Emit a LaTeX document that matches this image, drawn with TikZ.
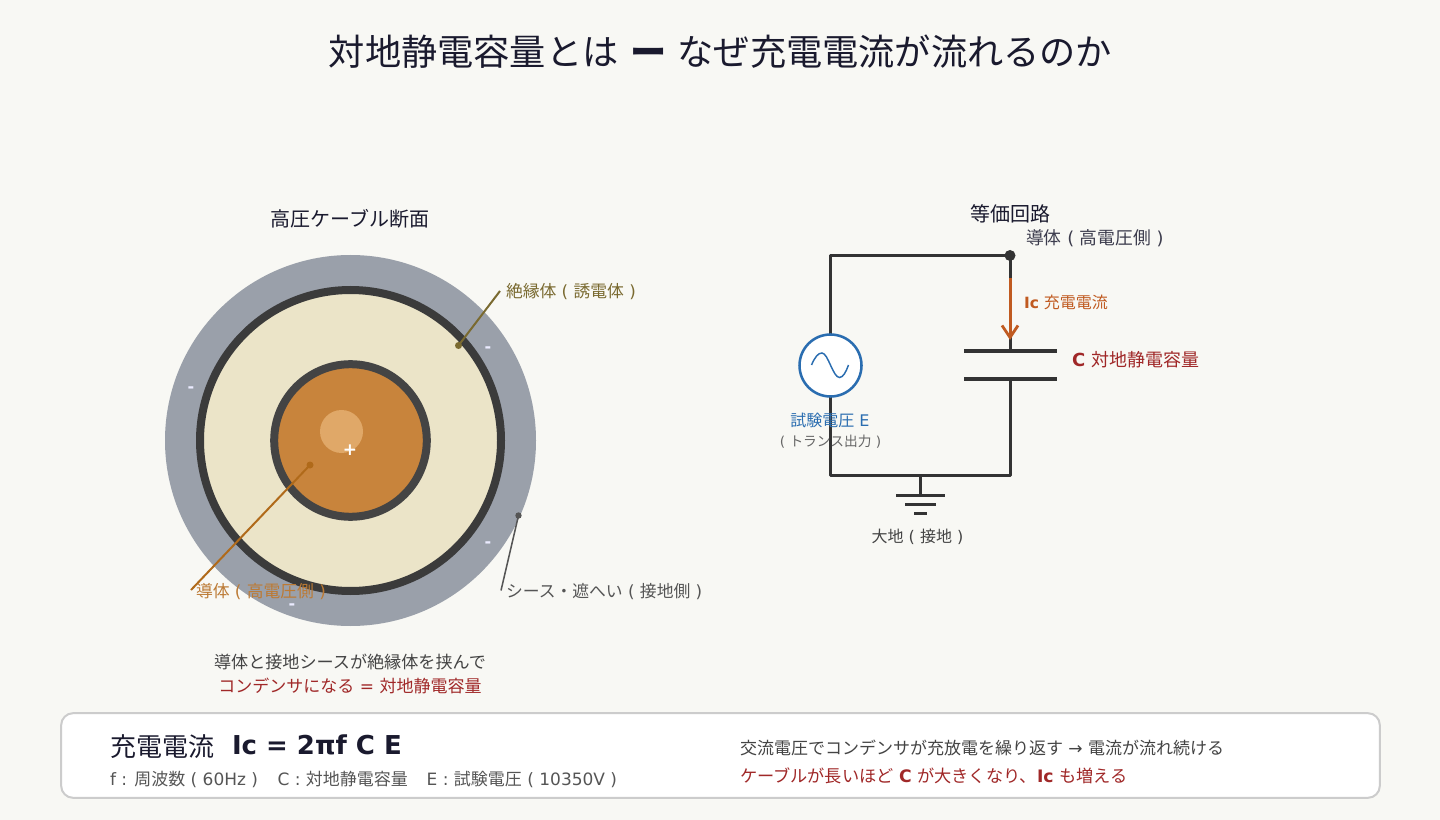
\documentclass[tikz,border=0pt]{standalone}
\usepackage{fontspec}
\setmainfont{DejaVu Sans}
\newfontfamily\cjk{Noto Sans CJK JP}
\usetikzlibrary{arrows.meta}
\newcommand\J[1]{{\cjk #1}}
\newcommand\fs[1]{\fontsize{\fpeval{#1*0.75}}{\fpeval{#1*0.9}}\selectfont}
\definecolor{bg}{HTML}{F8F8F4}
\definecolor{ink}{HTML}{1A1A2E}
\definecolor{sheath}{HTML}{9AA0AA}
\definecolor{insul}{HTML}{EBE4C8}
\definecolor{cond}{HTML}{C8843C}
\definecolor{hilite}{HTML}{E0A868}
\definecolor{wire}{HTML}{333333}
\definecolor{redt}{HTML}{A02828}
\definecolor{bluet}{HTML}{2A6DB0}
\definecolor{oranget}{HTML}{C05A20}
\definecolor{insl}{HTML}{7A6A30}
\definecolor{condl}{HTML}{B06A1A}
\definecolor{condt}{HTML}{BC7A34}
\definecolor{greyt}{HTML}{555555}
\definecolor{darkt}{HTML}{444444}
\tikzset{
  txt/.style={inner sep=0pt,outer sep=0pt,anchor=base west},
  ctxt/.style={inner sep=0pt,outer sep=0pt,anchor=base},
  wireline/.style={draw=wire,line width=2.25pt},
  plate/.style={draw=wire,line width=3pt},
  leader/.style={line width=1.5pt},
  charge/.style={ctxt,text=white!92!blue},
}
\begin{document}
\begin{tikzpicture}[x=0.75pt,y=-0.75pt]
\useasboundingbox (0,0) rectangle (1440,820);
\fill[bg] (0,0) rectangle (1440,820);
\node[ctxt,text=ink,font=\fs{36.2}] (title) at (720.5,66) {\J{対地静電容量とは} \J{\bfseries ー} \J{なぜ充電電流が流れるのか}};
% cable
\node[ctxt,text=ink,font=\fs{20}] (cabletitle) at (350,227) {\J{高圧ケーブル断面}};
\fill[sheath] (350.5,440.5) circle (185.5);
\filldraw[fill=insul,draw=black!77,line width=6pt] (350.5,440.5) circle (150.5);
\filldraw[fill=cond,draw=darkt,line width=6pt] (350.5,440.5) circle (76.3);
\fill[hilite] (341.5,431.5) circle (21.5);
\node[ctxt,text=white,font=\fs{17}\bfseries] (plus) at (350,455.5) {+};
\node[charge,font=\fs{16}\bfseries] (m1) at (488,353) {-};
\node[charge,font=\fs{16}\bfseries] (m2) at (191,392) {-};
\node[charge,font=\fs{16}\bfseries] (m3) at (488,547) {-};
\node[charge,font=\fs{16}\bfseries] (m4) at (292,609) {-};
\coordinate (ia) at (458.5,345.5); \coordinate (ib) at (500,291);
\coordinate (ca) at (310,465); \coordinate (cb) at (191,590);
\coordinate (sa) at (518.5,515.5); \coordinate (sb) at (501,590.5);
\draw[leader,insl] (ia) -- (ib); \fill[insl] (ia) circle (3.5);
\draw[leader,condl] (ca) -- (cb); \fill[condl] (ca) circle (3.5);
\draw[line width=1.15pt,greyt] (sa) -- (sb); \fill[greyt] (sa) circle (3.2);
\node[txt,text=insl,font=\fs{16.8}] (linsul) at (506,297) {\J{絶縁体} ( \J{誘電体} )};
\node[txt,text=condt,font=\fs{16.8}] (lcond) at (196,597) {\J{導体} ( \J{高電圧側} )};
\node[txt,text=greyt,font=\fs{16.8}] (lsheath) at (506,597) {\J{シース・遮へい} ( \J{接地側} )};
\node[ctxt,text=darkt,font=\fs{17.1}] (n1) at (350,668) {\J{導体と接地シースが絶縁体を挟んで}};
\node[ctxt,text=redt,font=\fs{17}] (n2) at (350,692) {\J{コンデンサになる} = \J{対地静電容量}};
% circuit
\node[ctxt,text=ink,font=\fs{20}] (circtitle) at (1010,222) {\J{等価回路}};
\node[txt,text=ink!85!white,font=\fs{17.8}] (lc2) at (1026,245) {\J{導体} ( \J{高電圧側} )};
\coordinate (tl) at (830,255.5); \coordinate (tr) at (1010,255.5);
\coordinate (bl) at (830,475.5); \coordinate (br) at (1010,475.5);
\coordinate (gnd) at (920,475.5); \coordinate (g0) at (920,495.5);
\coordinate (p1) at (1010,351); \coordinate (p2) at (1010,379);
\coordinate (ar1) at (1010,278); \coordinate (ar2) at (1010,340);
\draw[wireline,line join=round] (p1) -- (tr) -- (tl) -- (bl) -- (br) -- (p2);
\draw[wireline] (gnd) -- (g0);
\fill[wire] (tr) circle (5.5);
\draw[oranget,line width=2.25pt,-{Straight Barb[length=9pt,width=12pt,line width=2.1pt]}] (ar1) -- (ar2);
\draw[plate] (964,351) -- (1057,351);
\draw[plate] (964,379) -- (1057,379);
\draw[wireline] (896,495.5) -- (945,495.5);
\draw[wireline] (905,504.5) -- (936,504.5);
\draw[wireline] (914,513.5) -- (927,513.5);
\node[circle,draw=bluet,fill=white,line width=1.9pt,minimum size=46.5pt,inner sep=0pt] (src) at (830.5,365.5) {};
\draw[bluet,line width=1.1pt] (811.5,365) .. controls (815,357) and (818,353) .. (822,353) .. controls (828,353) and (833,377.5) .. (839.5,377.5) .. controls (843,377.5) and (846,372) .. (848.5,365);
\node[txt,text=oranget,font=\fs{15.5}] (lic) at (1024,308.5) {\textbf{Ic} \J{\fs{16}充電電流}};
\node[txt,text=redt,font=\fs{18}] (lcap) at (1072,366.5) {\textbf{C}\hspace{0.6pt} \J{対地静電容量}};
\node[ctxt,text=bluet,font=\fs{16}] (ls1) at (830,426) {\J{試験電圧} E};
\node[ctxt,text=black!60,font=\fs{13.7}] (ls2) at (830.5,446) {( \J{トランス出力} )};
\node[ctxt,text=darkt,font=\fs{16}] (lg) at (917.5,542) {\J{大地} ( \J{接地} )};
% box
\node[draw=black!20,fill=white,line width=1.5pt,rounded corners=9pt,minimum width=989pt,minimum height=63.5pt,inner sep=0pt] (box) at (720.5,755.5) {};
\node[txt,text=ink,font=\fs{26}] (f1) at (110,756) {\J{充電電流}};
\node[txt,text=ink,font=\fs{26}] (f2) at (232,754) {\textbf{Ic = 2πf C E}};
\node[txt,text=greyt,font=\fs{17}] (f3) at (110,785.5) {f : \J{周波数} ( 60Hz )\hspace{10.5pt} C : \J{対地静電容量}\hspace{10pt} E : \J{試験電圧} ( 10350V )};
\node[txt,text=darkt,font=\fs{17}] (r1) at (740,754) {\J{交流電圧でコンデンサが充放電を繰り返す} → \J{電流が流れ続ける}};
\node[txt,text=redt,font=\fs{17.2}] (r2) at (740,782) {\J{ケーブルが長いほど} \textbf{C} \J{が大きくなり、}\textbf{Ic} \J{も増える}};
\end{tikzpicture}
\end{document}
